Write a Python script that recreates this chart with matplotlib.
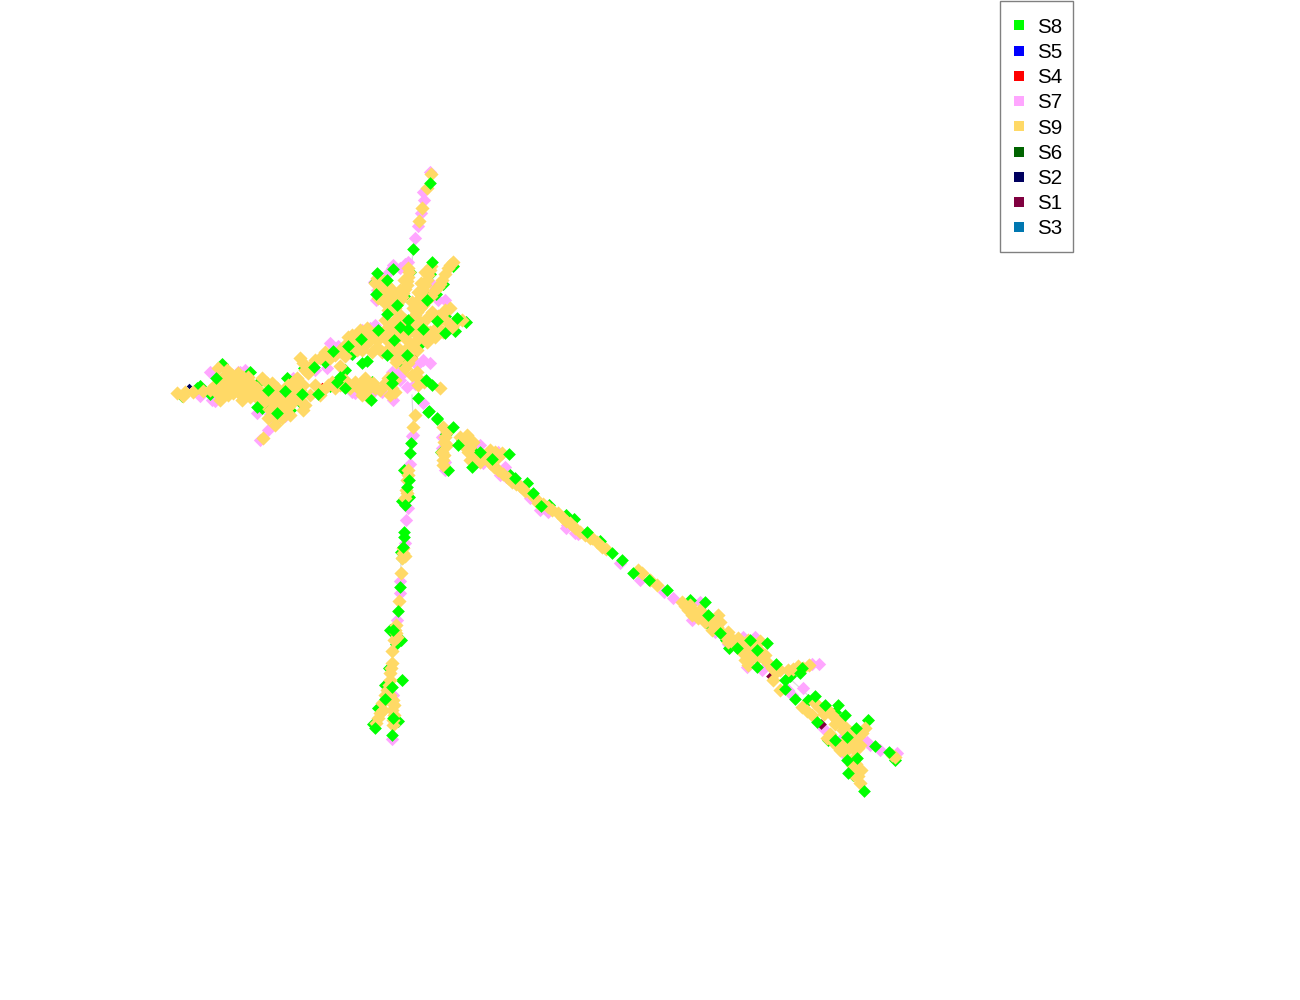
import matplotlib
matplotlib.use("Agg")
import matplotlib.pyplot as plt
from matplotlib.lines import Line2D
from matplotlib.patches import Rectangle

plt.rcParams['font.family'] = ['Liberation Sans', 'DejaVu Sans']

labels = ['S8', 'S5', 'S4', 'S7', 'S9', 'S6', 'S2', 'S1', 'S3']
colors = ['#00ff00', '#0000ff', '#ff0000', '#ffa6ff', '#ffd966', '#006400', '#00005f', '#800040', '#0077b0']

# tree edges (faint)
edges = [[(788,677),(811,698)], [(413,249),(412,263)], [(412,395),(414,440)], [(401,560),(400,600)], [(738,640),(748,660)]]

# small series, mostly hidden
s1 = [(771,676),(821,724)]
s2 = [(189,386),(373,382),(637,570),(415,358)]
s3 = [(401,560)]
s4 = [(322,385),(415,356)]
s5 = [(374,382)]
s6 = [(405,495)]

s7 = [(430,172),(423,192),(424,200),(421,213),(418,226),(415,238),
      (330,343),(370,328),(393,265),(408,262),(430,363),(403,373),(423,403),(407,387),(382,392),
      (355,393),(293,378),(238,372),(215,401),(268,430),(260,440),(275,422),(413,435),(417,365),
      (377,290),(430,297),(350,353),(327,368),(315,370),(352,392),(257,413),(400,380),(392,372),
      (376,300),(410,330),(386,275),(240,372),(210,372),(200,396),(283,395),
      (412,436),(410,464),(406,520),(408,508),(400,581),(400,593),(397,620),(392,739),(405,543),(393,695),(407,480),
      (442,448),(480,445),(483,463),(498,452),(505,467),(522,488),(530,498),(567,525),(442,437),(445,462),
      (548,512),(578,534),(664,592),(673,598),(620,563),(640,580),(700,602),(692,620),
      (747,667),(762,670),(803,688),(819,664),(809,665),(743,637),(792,695),(823,728),(843,753),
      (867,742),(897,753),(860,738),(788,690),(830,735),(855,770),
      (212,400),(245,370),(270,414),(285,416),(338,346),(362,330),(375,325),(398,372),(415,384),(423,360),
      (405,264),(392,268),(374,282),(400,268),(438,300),(432,284),(445,300),(393,400),(372,393),(445,470),(500,475),
      (506,477),(540,510),(566,528),(575,533),(715,632),(728,644),(755,637),(812,664),(880,750),(870,745),(842,738)]

s8_back = [(453,266),(443,284),(436,294),(430,274),(424,294),(410,272),(404,296),(375,282),(381,299),(445,316),(466,322),(455,331),
           (352,354),(325,362),(304,368),(345,370),(364,386),(330,386),(302,404),(290,410),(182,396),(197,388),(210,394),(200,386),
           (222,364),(250,372),(257,384),(268,407),(262,408),(287,378),(372,382),(420,344),(401,362),(446,434),(441,452),(448,470),(462,440),
           (473,451),(478,458),(510,475),(527,483),(549,505),(566,515),(574,519),(600,541),(404,470),(409,497),(402,501),(402,558),(401,552),
           (390,630),(396,644),(389,668),(385,685),(378,708),(373,724),(398,721),(690,600),(707,623),(726,640),(729,648),(746,650),(790,676),
           (808,700),(828,740),(853,775),(846,746),(895,760),(835,712),(868,720),(401,640),(402,680)]

s9 = [(453,262),(448,268),(442,280),(435,290),(423,305),(417,312),(412,318),
      (430,270),(427,280),(423,290),(418,300),(413,308),(408,268),(408,277),(407,285),(403,293),(400,300),(395,308),
      (377,278),(387,285),(393,292),(382,295),(390,302),(397,313),(385,303),(450,308),(443,313),(432,312),(427,318),(437,327),(462,320),
      (452,327),(443,332),(435,337),(427,342),(417,340),(387,340),(397,347),(377,347),(367,343),(357,350),(360,330),(348,337),(340,350),
      (320,358),(303,363),(308,373),(340,366),(367,328),(407,340),(417,350),(393,333),(380,337),(400,357),(408,363),(417,372),(403,335),
      (390,347),(377,340),(363,382),(357,385),(373,383),(367,390),(360,390),(392,388),(385,383),(332,382),(323,390),(300,400),(292,403),
      (303,410),(287,397),(293,382),(297,388),(288,407),(177,393),(185,392),(193,392),(203,391),(210,390),(218,368),(227,370),(220,390),
      (227,387),(237,383),(243,377),(248,377),(233,393),(243,395),(250,397),(257,388),(267,383),(277,388),(263,403),(270,410),(282,418),
      (275,425),(263,438),(238,373),(230,380),(220,400),(247,387),(233,383),(242,400),(413,427),(415,415),(418,385),(440,388),
      (431,174),(427,188),(422,208),(419,221),
      (401,573),(399,601),(403,553),(402,558),(408,475),(407,493),(395,630),(397,637),(392,651),(392,663),(390,673),(390,680),
      (387,690),(383,710),(376,723),(393,700),(392,710),(393,725),(380,713),
      (443,427),(445,437),(443,465),(443,460),(465,442),(470,447),(470,460),(480,462),(490,450),(502,453),(498,470),(508,478),
      (535,498),(552,510),(558,513),(570,523),(580,532),(592,538),(467,435),(473,442),(520,486),(590,538),(602,547),(642,573),(657,585),
      (682,602),(688,610),(692,615),(700,610),(703,618),(718,615),(717,627),(722,633),(728,632),(728,642),(738,638),(742,652),(750,652),
      (760,641),(762,653),(767,662),(748,665),(780,670),(793,669),(809,665),(773,680),(780,690),(750,660),
      (802,707),(812,715),(815,703),(828,710),(837,720),(840,723),(827,738),(843,743),(852,747),(858,748),(865,728),(895,757),(857,768),
      (852,765),(860,783),(850,732),(843,730),(855,738),(838,747),
      # denser fan
      (450,265),(445,274),(440,284),(438,287),(431,296),(427,300),(420,308),(415,315),
      (431,266),(428,275),(425,285),(421,295),(416,304),(425,272),(421,283),(418,292),(412,302),
      (409,272),(407,281),(405,289),(402,297),(397,304),(404,280),(400,290),(398,296),(393,302),
      (375,283),(381,287),(384,281),(390,288),(391,297),(395,298),(387,293),(379,290),(378,298),(384,299),(393,308),(388,310),(385,295),
      (400,315),(405,320),(395,320),(390,325),(385,320),(400,325),(395,328),(405,328),(410,325),(415,325),(420,322),(425,330),(415,333),
      (408,333),(400,335),(385,330),(375,333),(370,336),(365,338),(355,345),(350,345),(345,345),(352,335),(362,350),(372,352),(382,352),
      (392,355),(405,350),(412,345),(420,335),(430,332),(425,337),(435,318),(440,320),(447,322),(455,322),(458,320),(445,310),(438,316),
      (345,356),(335,355),(330,358),(325,352),(315,360),(310,367),(300,358),(305,370),(396,362),(411,358),(405,368),(412,375),(420,380),(424,382),
      # lower band
      (365,378),(370,385),(355,382),(350,388),(362,395),(368,397),(375,388),(380,390),(388,378),(395,380),(395,392),(390,395),(345,380),
      (340,385),(335,388),(328,385),(320,395),(315,385),(310,395),(305,405),(295,395),(283,405),(278,398),(272,395),(285,390),(290,390),
      (300,390),(303,385),(297,378),(288,385),
      # left blob
      (225,375),(232,375),(240,378),(235,388),(228,395),(222,395),(238,392),(245,390),(250,388),(252,392),(258,395),(262,395),(268,395),
      (272,402),(278,408),(285,412),(290,415),(275,417),(268,418),(255,396),(215,385),(243,382),(222,385),(216,392),(250,382),(262,378),
      (272,383),(183,396),
      # south spike
      (403,548),(405,556),(408,470),(407,480),(406,490),(405,498),(396,625),(396,633),(394,640),(391,668),(389,685),(385,695),(382,703),
      (378,718),(390,695),(394,705),(394,715),(393,720),
      # south-east arm
      (447,432),(444,442),(444,455),(442,452),(447,445),(460,437),(463,445),(468,452),(472,455),(476,458),(484,456),(495,452),(498,457),
      (490,463),(494,467),(503,474),(512,482),(516,484),(525,491),(532,495),(538,503),(543,504),(548,507),(563,518),(566,521),(575,528),
      (585,535),(597,542),(606,549),(638,570),(650,580),
      (685,606),(695,612),(690,605),(698,618),(705,622),(710,618),(712,623),(712,630),(720,622),(725,636),(733,640),(735,645),(745,648),
      (755,648),(753,643),(758,657),(765,655),(772,668),(776,672),(745,660),(788,670),(798,666),(803,668),(740,643),(748,640),(757,658),
      (807,711),(820,708),(824,714),(832,715),(835,724),(845,727),(848,737),(862,733),(853,742),(860,745),(832,741),(840,750),(848,745),
      (845,752),(855,757),(851,772),(854,775),(858,776),(861,770),(892,755),(818,706),(830,734),(853,760),(856,764)]

s8_front = [(377,273),(393,269),(432,262),(387,280),(376,294),(397,305),(387,314),(427,300),(408,320),(408,329),(400,327),(437,321),
            (445,333),(423,329),(394,340),(378,330),(407,355),(387,355),(361,339),(348,346),(333,351),(362,363),(367,361),(314,367),(340,377),
            (337,382),(345,388),(318,394),(302,394),(285,391),(268,390),(257,407),(277,413),(216,378),(371,400),(392,377),(392,383),(418,398),
            (426,380),(432,385),(429,411),(437,418),(457,318),(413,249),(430,183),
            (411,443),(410,453),(407,487),(405,505),(409,480),(404,532),(404,537),(400,587),(398,611),(393,630),(392,687),(385,699),(393,718),
            (392,735),(375,728),(403,547),
            (437,419),(428,412),(453,427),(458,445),(480,452),(492,459),(472,467),(509,454),(541,506),(533,493),(515,478),(587,532),
            (612,553),(622,560),(633,573),(649,580),(667,590),
            (705,602),(708,615),(737,648),(750,640),(757,650),(767,643),(776,664),(785,680),(802,668),(800,673),(757,667),(785,689),(720,633),
            (795,699),(815,696),(817,722),(838,705),(845,715),(856,728),(875,746),(889,752),(835,740),(857,758),(847,760),(864,791),(848,773),
            (825,705),(847,737)]

fig = plt.figure(figsize=(13, 10), dpi=100)
ax = fig.add_axes([0, 0, 1, 1])
ax.set_xlim(0, 1300)
ax.set_ylim(1000, 0)
ax.axis('off')

for seg in edges:
    ax.plot([p[0] for p in seg], [p[1] for p in seg], color='#dcdcdc', lw=0.9, zorder=1)

def draw(points, color, size, z):
    ax.scatter([p[0] for p in points], [p[1] for p in points], marker='D', s=size,
               c=color, linewidths=0, zorder=z)

draw(s2, colors[6], 8, 2)
draw(s3, colors[8], 8, 2)
draw(s4, colors[2], 8, 2)
draw(s5, colors[1], 8, 2)
draw(s6, colors[5], 8, 2)
draw(s7, colors[3], 46, 3)
draw(s1, colors[7], 30, 3.5)
draw(s8_back, colors[0], 44, 4)
draw(s9, colors[4], 52, 5)
draw(s8_front, colors[0], 42, 6)

ax.add_patch(Rectangle((1000, 0.5), 73, 251.5, facecolor='white', edgecolor='#808080', lw=1.0, zorder=9))
handles = [Line2D([], [], linestyle='none', marker='s', markersize=7.6, markerfacecolor=c,
                  markeredgewidth=0) for c in colors]
leg = ax.legend(handles, labels, loc='upper left', bbox_to_anchor=(1008.7/1300, 1 - 17.6/1000),
                bbox_transform=fig.transFigure, fontsize=14.8, frameon=False,
                borderpad=0, labelspacing=0.303, handlelength=1.0, handletextpad=0.38, borderaxespad=0)
leg.set_zorder(10)

fig.savefig('out.png', dpi=100)
